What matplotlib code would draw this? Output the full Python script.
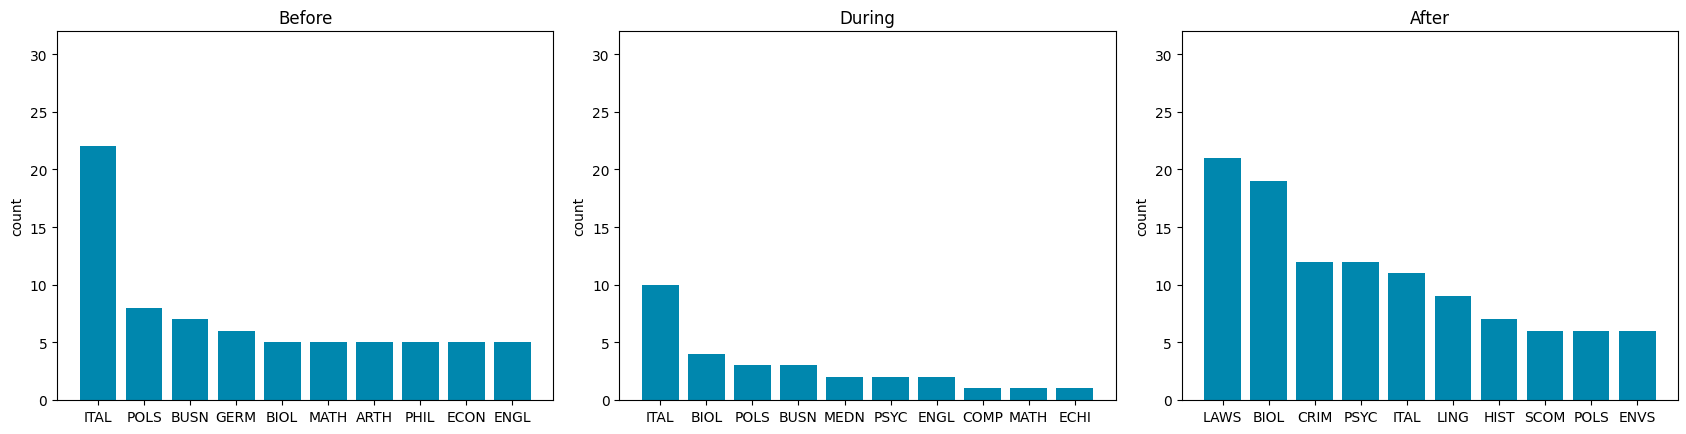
import matplotlib
matplotlib.use('Agg')
import matplotlib.pyplot as plt

# top 10 subjects per period
before_labels = ['ITAL', 'POLS', 'BUSN', 'GERM', 'BIOL', 'MATH', 'ARTH', 'PHIL', 'ECON', 'ENGL']
before_counts = [22, 8, 7, 6, 5, 5, 5, 5, 5, 5]

during_labels = ['ITAL', 'BIOL', 'POLS', 'BUSN', 'MEDN', 'PSYC', 'ENGL', 'COMP', 'MATH', 'ECHI']
during_counts = [10, 4, 3, 3, 2, 2, 2, 1, 1, 1]

after_labels = ['LAWS', 'BIOL', 'CRIM', 'PSYC', 'ITAL', 'LING', 'HIST', 'SCOM', 'POLS', 'ENVS']
after_counts = [21, 19, 12, 12, 11, 9, 7, 6, 6, 6]

titles = ['Before', 'During', 'After']
bar_color = '#0087ae'

fig, axes = plt.subplots(1, 3, figsize=(16.86, 4.35), dpi=100)

data = [(before_labels, before_counts), (during_labels, during_counts), (after_labels, after_counts)]
for ax, title, (labels, counts) in zip(axes, titles, data):
    ax.bar(labels, counts, color=bar_color)
    ax.set_title(title)
    ax.set_ylabel('count')
    ax.set_ylim(0, 32)

plt.subplots_adjust(left=0.0338, right=0.9953, top=0.9264, bottom=0.0782, wspace=0.133)
plt.savefig('out.png', dpi=100)
